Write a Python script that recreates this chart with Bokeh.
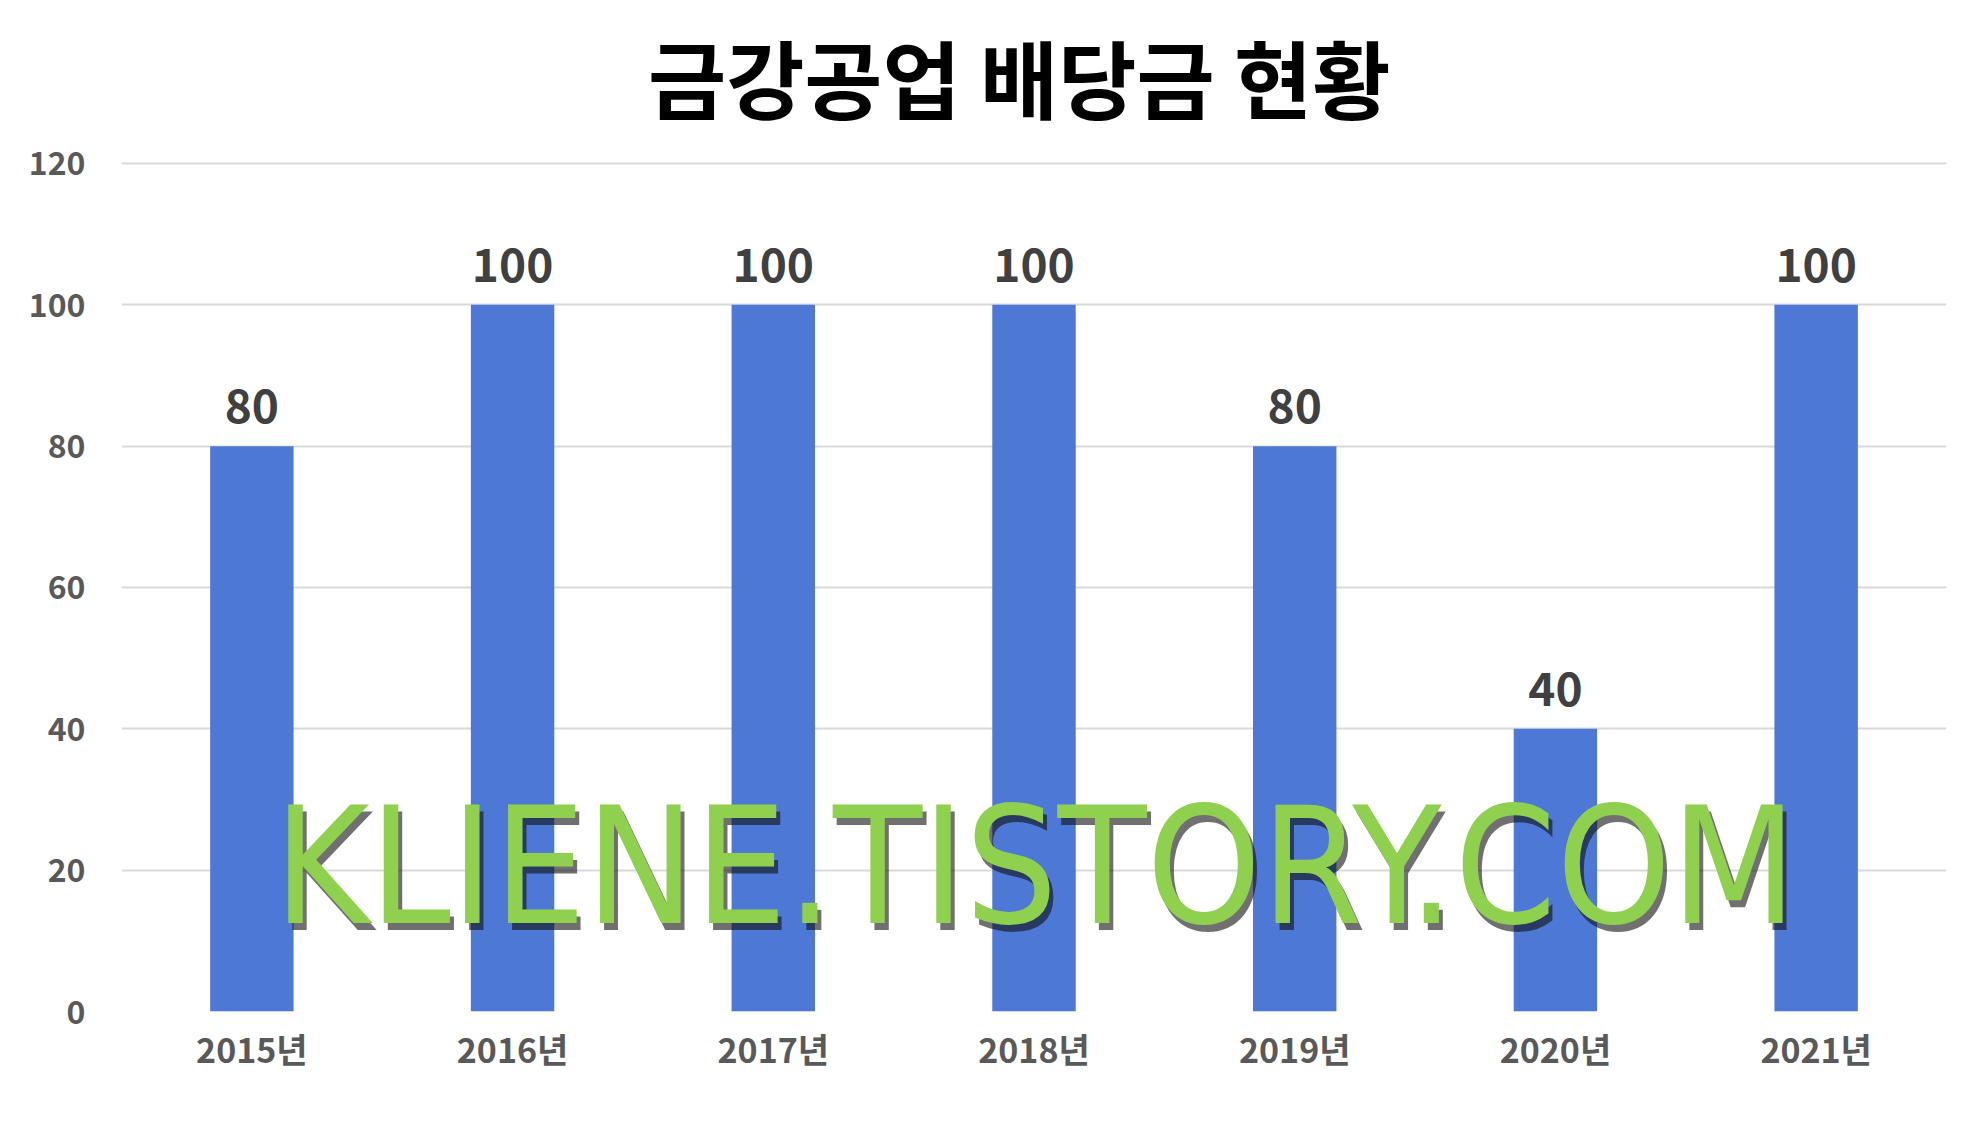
from bokeh.plotting import figure
from bokeh.models import ColumnDataSource, FactorRange, Range1d, FixedTicker, LabelSet, Label
from bokeh.core.properties import value
from bokeh.embed import file_html
from bokeh.resources import INLINE

# ---- data ----
years = ["2015년", "2016년", "2017년", "2018년", "2019년", "2020년", "2021년"]
dividends = [80, 100, 100, 100, 80, 40, 100]
y_ticks = [0, 20, 40, 60, 80, 100, 120]
title_text = "금강공업 배당금 현황"
watermark = "KLIENE.TISTORY.COM"

src = ColumnDataSource(dict(year=years, value=dividends, label=[str(v) for v in dividends]))

# y range extends above 120 so the title can sit inside the frame (gridlines stop at 120)
p = figure(
    width=1970, height=1109,
    x_range=FactorRange(*years, range_padding=0),
    y_range=Range1d(0, 143.06),
    output_backend="svg", toolbar_location=None,
    min_border_left=121, min_border_right=24,
    min_border_top=0, min_border_bottom=98,
)

title = Label(x=3.443, y=132.42, text=title_text, text_align="center", text_baseline="middle",
              text_font="Noto Sans CJK KR", text_font_style="bold",
              text_font_size="85px", text_color="#000000")
p.add_layout(title)

p.vbar(x="year", top="value", width=0.32, source=src, color="#4D78D5", line_color=None)

labels = LabelSet(x="year", y="value", text="label", source=src,
                  text_align="center", text_baseline="middle", y_offset=40,
                  text_font=value("Noto Sans CJK KR"), text_font_style="bold",
                  text_font_size="46px", text_color="#404040")
p.add_layout(labels)

# watermark with shadow
wm_font = "Liberation Sans Narrow, DejaVu Sans Condensed, Roboto Condensed, sans-serif"
shadow = Label(x=0.585, y=20.46, text=watermark, text_align="left", text_baseline="middle",
               text_font=wm_font, text_font_size="162px",
               text_color="#111111", text_alpha=0.6, x_offset=4, y_offset=-7)
wm = Label(x=0.585, y=20.46, text=watermark, text_align="left", text_baseline="middle",
           text_font=wm_font, text_font_size="162px",
           text_color="#8FD14F")
p.add_layout(shadow)
p.add_layout(wm)

p.yaxis.ticker = FixedTicker(ticks=y_ticks)
for ax in (p.xaxis, p.yaxis):
    ax.axis_line_color = None
    ax.major_tick_line_color = None
    ax.minor_tick_line_color = None
    ax.major_tick_out = 0
    ax.major_tick_in = 0
    ax.major_label_text_font = "Noto Sans CJK KR"
    ax.major_label_text_font_style = "bold"
    ax.major_label_text_color = "#595959"
p.yaxis.major_label_text_font_size = "32px"
p.xaxis.major_label_text_font_size = "34px"
p.yaxis.major_label_standoff = 36
p.xaxis.major_label_standoff = 12

p.xgrid.grid_line_color = None
p.ygrid.grid_line_color = "#D9D9D9"
p.ygrid.grid_line_width = 2
p.outline_line_color = None
p.background_fill_color = "white"
p.border_fill_color = "white"

open("out.html", "w").write(file_html(p, INLINE))
